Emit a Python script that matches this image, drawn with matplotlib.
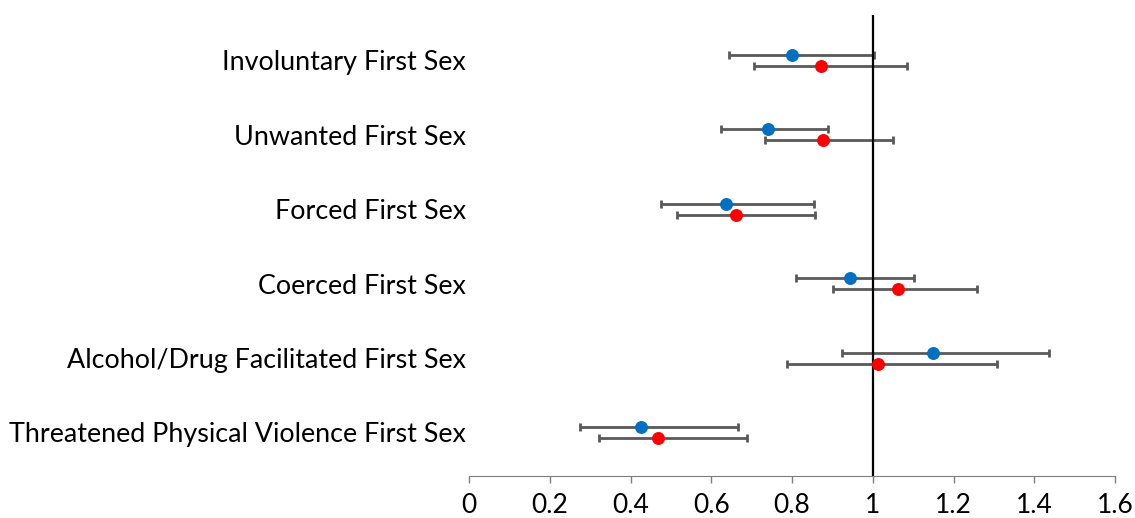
import numpy as np
import matplotlib.pyplot as plt

plt.rcParams['font.family'] = ['Lato', 'DejaVu Sans']

labels = ['Involuntary First Sex', 'Unwanted First Sex', 'Forced First Sex',
          'Coerced First Sex', 'Alcohol/Drug Facilitated First Sex',
          'Threatened Physical Violence First Sex']

# blue series: estimate, lower, upper
blue_est = [0.80, 0.74, 0.636, 0.943, 1.15, 0.427]
blue_lo = [0.644, 0.623, 0.476, 0.810, 0.924, 0.276]
blue_hi = [1.003, 0.888, 0.855, 1.103, 1.436, 0.666]

# red series
red_est = [0.873, 0.876, 0.662, 1.062, 1.013, 0.469]
red_lo = [0.707, 0.732, 0.515, 0.901, 0.788, 0.323]
red_hi = [1.084, 1.051, 0.858, 1.258, 1.307, 0.688]

ticks = [0, 0.2, 0.4, 0.6, 0.8, 1, 1.2, 1.4, 1.6]
tick_labels = ['0', '0.2', '0.4', '0.6', '0.8', '1', '1.2', '1.4', '1.6']

fig = plt.figure(figsize=(11.35, 5.18), dpi=100)
ax = fig.add_axes([469/1135, 1 - 476/518, (1115 - 469)/1135, (476 - 15)/518])

y = np.arange(len(labels))[::-1].astype(float)
off = 0.074

be = np.array(blue_est)
re = np.array(red_est)
ax.errorbar(be, y + off, xerr=[be - np.array(blue_lo), np.array(blue_hi) - be],
            fmt='none', ecolor='#595959', elinewidth=2.0, capsize=2.6, capthick=2.0, zorder=2)
ax.errorbar(re, y - off, xerr=[re - np.array(red_lo), np.array(red_hi) - re],
            fmt='none', ecolor='#595959', elinewidth=2.0, capsize=2.6, capthick=2.0, zorder=2)
ax.axvline(1, color='black', lw=1.6, zorder=3)
ax.plot(be, y + off, 'o', color='#0070C0', ms=8.3, zorder=4)
ax.plot(re, y - off, 'o', color='#FF0000', ms=8.3, zorder=4)

ax.set_xlim(0, 1.6)
ax.set_ylim(-0.585, 5.61)
ax.set_xticks(ticks)
ax.set_xticklabels(tick_labels, fontsize=19)
ax.set_yticks(y)
ax.set_yticklabels(labels, fontsize=19.4)

for s in ['top', 'right', 'left']:
    ax.spines[s].set_visible(False)
ax.spines['bottom'].set_color('#7f7f7f')
ax.tick_params(axis='x', colors='#7f7f7f', length=5, width=1, labelcolor='black', pad=7)
ax.tick_params(axis='y', length=0, pad=2)

plt.savefig('out.png', dpi=100)
